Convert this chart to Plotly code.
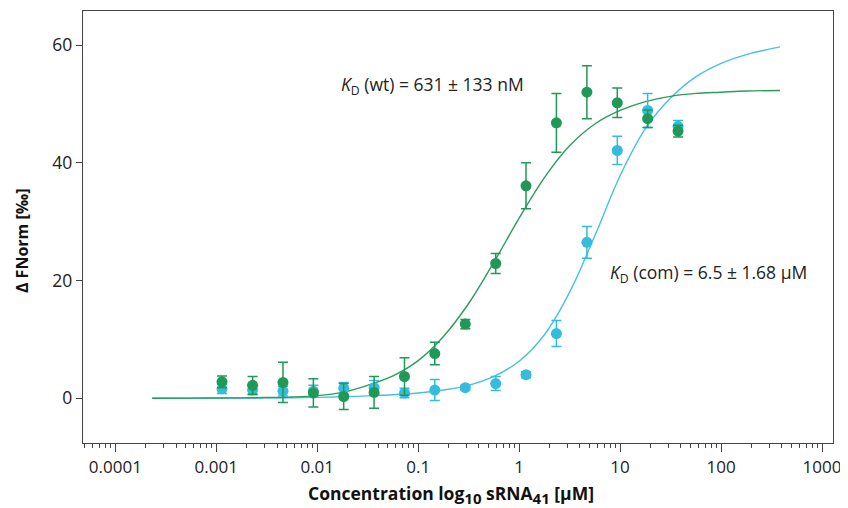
import plotly.graph_objects as go

# ---- data ----
conc = [0.00114, 0.00229, 0.00458, 0.00916, 0.0183, 0.0366, 0.0732, 0.146,
        0.293, 0.586, 1.17, 2.34, 4.69, 9.38, 18.75, 37.5]

wt_y = [2.8, 2.2, 2.7, 0.9, 0.3, 1.0, 3.7, 7.6, 12.6, 22.9, 36.1, 46.8, 52.0, 50.2, 47.5, 45.4]
wt_err = [1.0, 1.5, 3.4, 2.4, 2.2, 2.7, 3.2, 1.9, 0.8, 1.7, 3.9, 5.0, 4.5, 2.5, 1.5, 1.0]

com_y = [1.6, 1.4, 1.2, 1.2, 1.7, 1.8, 0.9, 1.4, 1.8, 2.5, 4.0, 11.0, 26.5, 42.1, 48.9, 46.2]
com_err = [0.8, 0.8, 0.8, 1.0, 1.0, 1.2, 0.8, 1.8, 0.4, 1.2, 0.5, 2.2, 2.7, 2.4, 2.9, 1.0]

# fitted curves
fit_x = [0.000232, 0.000562, 0.001, 0.00178, 0.00316, 0.00562, 0.01, 0.0178, 0.0316,
         0.0562, 0.1, 0.178, 0.316, 0.562, 1.0, 1.78, 3.16, 5.62, 10, 17.8, 31.6,
         56.2, 100, 178, 384]
fit_wt = [0.0, 0.02, 0.04, 0.07, 0.12, 0.22, 0.45, 1.0, 2.2, 3.8, 6.4, 10.5, 16.1, 23.1,
          30.6, 37.5, 42.9, 46.6, 48.9, 50.4, 51.3, 51.8, 52.0, 52.2, 52.3]
fit_com = [0.0, 0.01, 0.02, 0.04, 0.06, 0.1, 0.15, 0.25, 0.4, 0.6, 0.9, 1.4, 2.2, 3.7,
           6.3, 10.8, 18.0, 27.6, 37.8, 45.8, 51.0, 54.6, 56.9, 58.4, 59.7]

x_tickvals = [0.0001, 0.001, 0.01, 0.1, 1, 10, 100, 1000]
x_ticktext = ["0.0001", "0.001", "0.01", "0.1", "1", "10", "100", "1000"]
y_tickvals = [0, 20, 40, 60]

GREEN = "#1f9955"
BLUE = "#35bbdb"
GREEN_LINE = "#2a9d5c"
BLUE_LINE = "#45c2e0"
AXIS = "#444444"
FONT = "Open Sans"

fig = go.Figure()

fig.add_trace(go.Scatter(x=fit_x, y=fit_com, mode="lines", line=dict(color=BLUE_LINE, width=1.4, shape="spline"),
                         hoverinfo="skip", showlegend=False))
fig.add_trace(go.Scatter(x=fit_x, y=fit_wt, mode="lines", line=dict(color=GREEN_LINE, width=1.4, shape="spline"),
                         hoverinfo="skip", showlegend=False))

fig.add_trace(go.Scatter(x=conc, y=com_y, mode="markers",
                         marker=dict(color=BLUE, size=11),
                         error_y=dict(type="data", array=com_err, color=BLUE, thickness=1.5, width=5),
                         showlegend=False))
fig.add_trace(go.Scatter(x=conc, y=wt_y, mode="markers",
                         marker=dict(color=GREEN, size=11),
                         error_y=dict(type="data", array=wt_err, color=GREEN, thickness=1.5, width=5),
                         showlegend=False))

# the page body adds an 8px offset, so the figure is 8px smaller with margins shifted
fig.update_layout(
    width=840, height=500,
    margin=dict(l=75, r=15, t=3, b=65, autoexpand=False),
    paper_bgcolor="white", plot_bgcolor="white",
    font=dict(family=FONT, size=17, color="#222222"),
    showlegend=False,
)

fig.update_xaxes(
    type="log", range=[-4.32, 3.109], automargin=False,
    tickvals=x_tickvals, ticktext=x_ticktext,
    ticks="outside", ticklen=8, tickwidth=1.2, tickcolor=AXIS,
    minor=dict(ticks="outside", ticklen=4, tickwidth=1, tickcolor=AXIS, dtick="D1", showgrid=False),
    showline=True, linecolor=AXIS, linewidth=1.3, mirror=True,
    showgrid=False, zeroline=False,
    tickfont=dict(size=17, color="#222222"),
)
fig.update_yaxes(
    range=[-7.6, 65.8], automargin=False,
    tickvals=y_tickvals,
    ticks="outside", ticklen=6, tickwidth=1.2, tickcolor=AXIS,
    showline=True, linecolor=AXIS, linewidth=1.3, mirror=True,
    showgrid=False, zeroline=False,
    tickfont=dict(size=17.5, color="#222222"),
)

# axis titles
fig.add_annotation(xref="paper", yref="paper", x=0.491, y=-0.120, xanchor="center", yanchor="middle",
                   text=("<b>Concentration log<sub><span style='font-size:15px'>10</span></sub>"
                         " sRNA<sub><span style='font-size:15px'>41</span></sub> [μM]</b>"),
                   showarrow=False, font=dict(size=17.5, color="#111111"))
fig.add_annotation(xref="paper", yref="paper", x=-0.081, y=0.468, xanchor="center", yanchor="middle",
                   text="<b>Δ FNorm [‰]</b>", textangle=-90,
                   showarrow=False, font=dict(size=16, color="#111111"))

# KD labels
fig.add_annotation(x=-1.782, y=53.2, xanchor="left", yanchor="middle",
                   text="<i>K</i><sub>D</sub> (wt) = 631 ± 133 nM",
                   showarrow=False, font=dict(size=17.5, color="#222222"))
fig.add_annotation(x=0.881, y=21.2, xanchor="left", yanchor="middle",
                   text="<i>K</i><sub>D</sub> (com) = 6.5 ± 1.68 μM",
                   showarrow=False, font=dict(size=17.5, color="#222222"))

fig.write_html("out.html")
